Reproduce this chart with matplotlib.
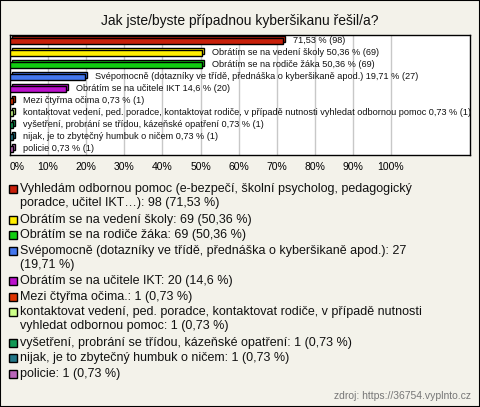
import matplotlib
matplotlib.use("Agg")
import matplotlib.pyplot as plt
from matplotlib.patches import Rectangle

plt.rcParams['font.family'] = ['Liberation Sans', 'DejaVu Sans']

title = "Jak jste/byste případnou kyberšikanu řešil/a?"
bar_names = [
    "",
    "Obrátím se na vedení školy",
    "Obrátím se na rodiče žáka",
    "Svépomocně (dotazníky ve třídě, přednáška o kyberšikaně apod.)",
    "Obrátím se na učitele IKT",
    "Mezi čtyřma očima",
    "kontaktovat vedení, ped. poradce, kontaktovat rodiče, v případě nutnosti vyhledat odbornou pomoc",
    "vyšetření, probrání se třídou, kázeňské opatření",
    "nijak, je to zbytečný humbuk o ničem",
    "policie",
]
percents = [71.53, 50.36, 50.36, 19.71, 14.6, 0.73, 0.73, 0.73, 0.73, 0.73]
pct_text = ["71,53", "50,36", "50,36", "19,71", "14,6", "0,73", "0,73", "0,73", "0,73", "0,73"]
counts = [98, 69, 69, 27, 20, 1, 1, 1, 1, 1]
legend_labels = [
    "Vyhledám odbornou pomoc (e-bezpečí, školní psycholog, pedagogický\nporadce, učitel IKT…): 98 (71,53 %)",
    "Obrátím se na vedení školy: 69 (50,36 %)",
    "Obrátím se na rodiče žáka: 69 (50,36 %)",
    "Svépomocně (dotazníky ve třídě, přednáška o kyberšikaně apod.): 27\n(19,71 %)",
    "Obrátím se na učitele IKT: 20 (14,6 %)",
    "Mezi čtyřma očima.: 1 (0,73 %)",
    "kontaktovat vedení, ped. poradce, kontaktovat rodiče, v případě nutnosti\nvyhledat odbornou pomoc: 1 (0,73 %)",
    "vyšetření, probrání se třídou, kázeňské opatření: 1 (0,73 %)",
    "nijak, je to zbytečný humbuk o ničem: 1 (0,73 %)",
    "policie: 1 (0,73 %)",
]
colors = ["#c8200a", "#ffee00", "#11cc11", "#4477ee", "#bb11cc",
          "#dd3300", "#ccff88", "#119955", "#227788", "#bb66bb"]
xticks = [0, 10, 20, 30, 40, 50, 60, 70, 80, 90, 100]
source = "zdroj: https://36754.vyplnto.cz"

W, H = 480, 407
BG = "#f3f2ea"
fig = plt.figure(figsize=(W / 100, H / 100), dpi=100, facecolor=BG)

def fx(x):
    return x / W

def fy(y):
    return 1 - y / H

# plot area in pixels
L, R, T, B = 10, 470, 35, 155
ax = fig.add_axes([fx(L), fy(B), (R - L) / W, (B - T) / H])
ax.set_facecolor("white")
px_per_pct = 3.81
ax.set_xlim(0, (R - L) / px_per_pct)
n = len(percents)
ax.set_ylim(n - 0.5, -0.5)

dx = 2 / px_per_pct   # 3D depth in % units
dy = 2 / 12.0         # 3D depth in row units
ys = list(range(n))
# back (depth) face
ax.barh([y - dy for y in ys], percents, left=dx, height=0.45,
        color=colors, edgecolor="black", linewidth=1.0, zorder=2)
# front face
ax.barh(ys, percents, height=0.45, color=colors,
        edgecolor="black", linewidth=1.0, zorder=3)

for y, v, nm, pt, c in zip(ys, percents, bar_names, pct_text, counts):
    label = (nm + " " if nm else "") + f"{pt} % ({c})"
    ax.text(v + dx + 8 / px_per_pct, y - 0.05, label, fontsize=6.6,
            va="center", ha="left", color="#111111", zorder=4)

ax.set_xticks(xticks)
ax.set_xticklabels([f"{t}%" for t in xticks], fontsize=7.5)
ax.tick_params(axis="x", length=0, pad=5)
ax.set_yticks([])
ax.grid(axis="x", color="#c8c8c8", linewidth=1.0, zorder=0)
ax.set_axisbelow(True)
for s in ax.spines.values():
    s.set_color("black")
    s.set_linewidth(1.0)
lbls = ax.get_xticklabels()
lbls[0].set_horizontalalignment("left")
lbls[0].set_x(0)

fig.text(fx(240), fy(21), title, fontsize=10, ha="center", va="center", color="#111111")

# legend
line_h = 15.4
y = 189
for lab, c in zip(legend_labels, colors):
    fig.patches.append(Rectangle((fx(9), fy(y + 4)), 8 / W, 8 / H, transform=fig.transFigure,
                                 facecolor=c, edgecolor="black", linewidth=1.0))
    fig.text(fx(20), fy(y - 6), lab, fontsize=9, ha="left", va="top", color="#111111",
             linespacing=1.22, transform=fig.transFigure)
    y += line_h * (lab.count("\n") + 1)

fig.text(fx(471), fy(396), source, fontsize=7.5, ha="right", va="center", color="#777777")

fig.patches.append(Rectangle((0, 0), 1, 1, transform=fig.transFigure, fill=False,
                             edgecolor="black", linewidth=1.5))
fig.savefig("out.png", dpi=100, facecolor=BG)
